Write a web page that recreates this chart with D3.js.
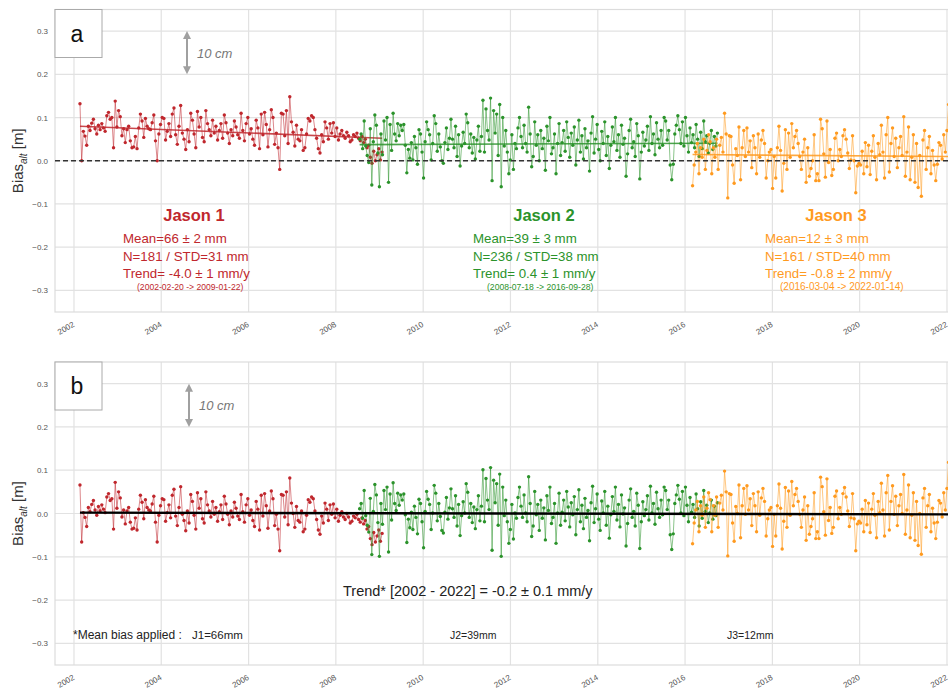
<!DOCTYPE html>
<html><head><meta charset="utf-8">
<script src="https://cdn.jsdelivr.net/npm/d3@7"></script>
<style>body{margin:0;background:#fff} svg{font-family:"Liberation Sans", Arial, sans-serif; display:block}</style>
</head><body><svg id="c" width="948" height="691"></svg>
<script>
// Altimeter bias values (mm) per Jason mission
const j1Values = [132,0,68,57,36,80,70,87,96,74, 62,82,72,86,76,68,104,112,96,100,
 30,138,78,116,102,58,74,42,72,80, 46,30,32,56,28,76,108,92,54,98,
 80,74,72,88,106,46,0,62,84,100, 98,48,68,86,56,108,122,60,38,80,
 128,64,50,26,72,44,110,94,62,30, 114,78,100,54,44,116,86,72,58,94,
 64,80,48,70,86,52,106,88,64,40, 72,58,92,78,60,52,110,70,46,86,
 100,62,74,50,36,94,76,28,108,60, 112,84,32,72,118,100,38,64,30,-20,
 110,108,58,116,40,148,90,66,34,82, 50,46,72,24,30,62,98,92,104,100,
 72,52,28,18,60,44,90,76,50,86, 64,88,56,76,48,62,70,58,52,66,
 58,44,48,60,56,64,52,46,56,42, 50,30,36,8,-6,22,0,14,28,2,20];
const j2Values = [50,62,28,92,34,12,-4,74,-56,44, 106,82,18,-60,62,14,92,48,100,-50,
 84,24,110,62,46,86,58,82,70,84, 36,-28,26,6,42,2,56,30,-8,72,
 62,20,-40,44,90,72,60,2,40,104, 86,22,62,32,0,-6,42,76,26,52,
 96,50,30,80,10,60,-12,34,66,40, 108,88,30,62,18,54,4,48,80,22,
 56,140,20,120,70,48,145,-46,116,64, 108,12,130,-60,100,34,70,20,-30,2,
 60,-20,40,28,76,100,56,30,82,40, 20,124,62,-14,10,90,36,60,0,70,
 28,52,-22,80,46,100,16,30,62,-30, 40,86,12,42,70,22,90,54,8,64,
 36,78,-10,48,94,20,58,4,74,30, 46,-24,64,102,18,50,84,26,0,68,
 40,90,12,56,-18,36,78,44,100,24, 60,8,82,38,52,-36,16,70,96,30,
 44,10,86,58,-42,20,66,34,48,80, 24,102,40,62,14,88,50,30,70,36,
 100,92,48,70,-10,-44,-8,62,82,104, 72,40,90,34,100,58,20,76,42,60,
 30,84,50,10,66,28,92,44,58,18, 40,70,26,56,34,64];
const j3Values = [-58,-10,20,40,-30,30,8,50,-20,24, 60,44,-30,30,8,50,-20,36,54,20,
 110,62,-86,58,56,-10,-52,28,12,78, -44,30,70,10,76,20,46,-16,58,30,
 -30,62,8,48,70,40,-40,0,20,26, -64,10,-40,30,80,24,-70,-6,72,-20,
 64,8,86,30,56,70,40,10,-20,20, 50,-50,30,-36,-18,0,60,-46,-30,-46,
 96,74,16,-38,92,-4,26,-34,-20,52, 64,0,26,10,58,72,50,18,-18,2,
 58,0,-74,-12,-6,-10,22,-30,42,-14, 36,-32,22,58,8,-44,40,14,82,20,
 -40,60,100,-26,40,76,10,52,-16,30, 56,12,102,-36,20,78,-44,8,60,-50,
 40,-62,12,-82,48,70,-20,30,56,-30, 24,-10,-46,-8,42,36,4,60,20,70,130];

const missionNames = ["Jason 1", "Jason 2", "Jason 3"];
const missionStart = ["2002-02-20", "2008-07-18", "2016-03-04"];
const missionEnd = ["2009-01-22", "2016-09-28", "2022-01-14"];
const missionMean = [66, 39, 12];
const missionMeanErr = [2, 3, 3];
const missionN = [181, 236, 161];
const missionSTD = [31, 38, 40];
const missionTrend = ["-4.0", "0.4", "-0.8"];
const missionTrendErr = [1, 1, 2];
const missionColors = ["#c0272d", "#2b932b", "#ff9a1f"];
const globalTrend = "-0.2", globalTrendErr = "0.1";
const globalStart = "2002-02-20", globalEnd = "2022-01-14";
const yTicks = [-300, -200, -100, 0, 100, 200, 300];
const xTickYears = [2002, 2004, 2006, 2008, 2010, 2012, 2014, 2016, 2018, 2020, 2022];

const svg = d3.select("#c");
const parse = d3.timeParse("%Y-%m-%d");
const YEAR = 365.25 * 24 * 3600 * 1000;
const x = d3.scaleTime().domain([new Date(2002, 0, 1), new Date(2022, 0, 1)]).range([74, 947]);
const L = 55, R = 950;

const series = [j1Values, j2Values, j3Values].map((vals, k) => {
  const t0 = parse(missionStart[k]), t1 = parse(missionEnd[k]);
  const tScale = d3.scaleLinear().domain([0, vals.length - 1]).range([+t0, +t1]);
  return vals.map((v, i) => ({ date: new Date(tScale(i)), v: v, vb: v - missionMean[k] }));
});

function panel(top, bottom, label, isB) {
  const y = d3.scaleLinear().domain([-350, 350]).range([bottom, top]);
  const g = svg.append("g");
  // grid
  g.selectAll(".gy").data(yTicks).join("line")
    .attr("x1", L).attr("x2", R).attr("y1", d => y(d)).attr("y2", d => y(d))
    .attr("stroke", "#e2e2e2").attr("stroke-width", 1.2);
  g.selectAll(".gx").data(xTickYears).join("line")
    .attr("x1", d => x(new Date(d, 0, 1))).attr("x2", d => x(new Date(d, 0, 1)))
    .attr("y1", top).attr("y2", bottom)
    .attr("stroke", "#e2e2e2").attr("stroke-width", 1.2);
  g.append("rect").attr("x", L).attr("y", top).attr("width", R - L).attr("height", bottom - top)
    .attr("fill", "none").attr("stroke", "#dcdcdc").attr("stroke-width", 1.2);
  // y tick labels
  const fmt = d3.format(".1f");
  g.selectAll(".yt").data(yTicks).join("text")
    .attr("x", 48).attr("y", d => y(d) + 3).attr("text-anchor", "end")
    .attr("font-size", 8).attr("fill", "#555").text(d => fmt(d / 1000));
  // x tick labels
  g.selectAll(".xt").data(xTickYears).join("text")
    .attr("transform", d => `translate(${x(new Date(d, 0, 1)) + 1},${bottom + 14}) rotate(-30)`)
    .attr("text-anchor", "end").attr("font-size", 8).attr("fill", "#555").text(d => d);
  // y axis label
  const yl = g.append("text").attr("transform", `translate(23,${y(0)}) rotate(-90)`)
    .attr("text-anchor", "middle").attr("font-size", 15).attr("fill", "#333");
  yl.append("tspan").text("Bias");
  yl.append("tspan").attr("font-size", 10).attr("font-style", "italic").attr("dy", 4).text("alt");
  yl.append("tspan").attr("dy", -4).text(" [m]");

  // series
  const key = isB ? "vb" : "v";
  const line = d3.line().x(d => x(d.date)).y(d => y(d[key]));
  series.forEach((s, k) => {
    g.append("path").datum(s).attr("d", line).attr("fill", "none")
      .attr("stroke", missionColors[k]).attr("stroke-width", 1).attr("stroke-opacity", 0.55);
    g.selectAll(null).data(s).join("circle")
      .attr("cx", d => x(d.date)).attr("cy", d => y(d[key])).attr("r", 1.7)
      .attr("fill", missionColors[k]);
    if (!isB) {
      const t0 = parse(missionStart[k]), t1 = parse(missionEnd[k]);
      const mid = (+t0 + +t1) / 2, slope = +missionTrend[k];
      const tv = t => missionMean[k] + slope * (t - mid) / YEAR;
      g.append("line").attr("x1", x(t0)).attr("x2", x(t1))
        .attr("y1", y(tv(+t0))).attr("y2", y(tv(+t1)))
        .attr("stroke", missionColors[k]).attr("stroke-width", 1.6).attr("stroke-opacity", 0.85);
    }
  });
  if (!isB) {
    g.append("line").attr("x1", L).attr("x2", R).attr("y1", y(0)).attr("y2", y(0))
      .attr("stroke", "#333").attr("stroke-width", 1.3).attr("stroke-dasharray", "5,3");
  } else {
    const t0 = parse(globalStart), t1 = parse(globalEnd);
    const mid = (+t0 + +t1) / 2, slope = +globalTrend;
    const tv = t => slope * (t - mid) / YEAR;
    g.append("line").attr("x1", x(t0)).attr("x2", x(t1))
      .attr("y1", y(tv(+t0))).attr("y2", y(tv(+t1)))
      .attr("stroke", "#000").attr("stroke-width", 2.4);
  }
  // panel letter box
  g.append("rect").attr("x", L).attr("y", top).attr("width", 47).attr("height", 48)
    .attr("fill", "#fff").attr("stroke", "#aaa").attr("stroke-width", 1);
  g.append("text").attr("x", L + 22).attr("y", top + 32).attr("text-anchor", "middle")
    .attr("font-size", 23).attr("fill", "#111").text(label);
  // 10 cm arrow
  const ax = isB ? 189 : 187;
  const ya = y(300), yb = y(200);
  g.append("line").attr("x1", ax).attr("x2", ax).attr("y1", ya + 6).attr("y2", yb - 6)
    .attr("stroke", "#a0a0a0").attr("stroke-width", 2);
  g.append("path").attr("d", `M${ax - 4},${ya + 8}L${ax},${ya}L${ax + 4},${ya + 8}Z`).attr("fill", "#a0a0a0");
  g.append("path").attr("d", `M${ax - 4},${yb - 8}L${ax},${yb}L${ax + 4},${yb - 8}Z`).attr("fill", "#a0a0a0");
  g.append("text").attr("x", ax + 10).attr("y", (ya + yb) / 2 + 5).attr("font-size", 13)
    .attr("font-style", "italic").attr("fill", "#777").text("10 cm");
  return y;
}

panel(9.5, 312, "a", false);
panel(362, 665, "b", true);

// Panel a mission statistics
const blockTitleX = [194, 544, 836];
const blockTextX = [123, 473, 765];
const blockDateX = [137, 487, 780];
const dateFont = [8.6, 8.6, 10];
missionNames.forEach((name, k) => {
  const c = missionColors[k];
  svg.append("text").attr("x", blockTitleX[k]).attr("y", 221).attr("text-anchor", "middle")
    .attr("font-size", 16.5).attr("font-weight", "bold").attr("fill", c).text(name);
  const lines = [`Mean=${missionMean[k]} ± ${missionMeanErr[k]} mm`,
                 `N=${missionN[k]} / STD=${missionSTD[k]} mm`,
                 `Trend= ${missionTrend[k]} ± ${missionTrendErr[k]} mm/y`];
  [243, 261, 278].forEach((yy, i) => {
    svg.append("text").attr("x", blockTextX[k]).attr("y", yy).attr("font-size", 13.3)
      .attr("fill", c).text(lines[i]);
  });
  svg.append("text").attr("x", blockDateX[k]).attr("y", 290).attr("font-size", dateFont[k])
    .attr("fill", c).text(`(${missionStart[k]} -> ${missionEnd[k]})`);
});

// Panel b annotations
svg.append("text").attr("x", 343).attr("y", 596).attr("font-size", 14.5).attr("fill", "#222")
  .text(`Trend* [2002 - 2022] = ${globalTrend} ± ${globalTrendErr} mm/y`);
svg.append("text").attr("x", 73).attr("y", 639).attr("font-size", 12).attr("fill", "#222")
  .text("*Mean bias applied :");
const biasX = [192, 450, 727];
const biasFont = [11.5, 10.5, 10.5];
missionMean.forEach((m, k) => {
  svg.append("text").attr("x", biasX[k]).attr("y", 639).attr("font-size", biasFont[k]).attr("fill", "#222")
    .text(`J${k + 1}=${m}mm`);
});
</script></body></html>
